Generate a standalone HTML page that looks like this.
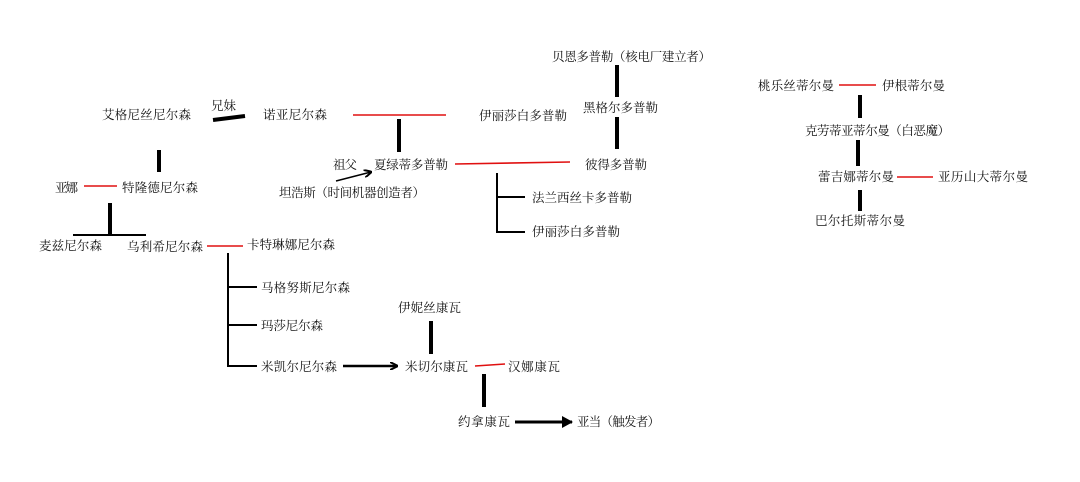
<!DOCTYPE html>
<html><head><meta charset="utf-8"><style>
html,body{margin:0;padding:0;background:#fff;}
svg{display:block;}
text{font-family:"Liberation Serif","Noto Serif CJK SC",serif;font-size:12.5px;fill:#111;}
</style></head><body>
<svg width="1080" height="482" viewBox="0 0 1080 482" xmlns="http://www.w3.org/2000/svg">
<defs><marker id="ah" markerWidth="8" markerHeight="8" refX="7" refY="4" orient="auto" markerUnits="userSpaceOnUse"><path d="M0,0 L8,4 L0,8" fill="none" stroke="#000" stroke-width="2"/></marker>
<marker id="ah2" markerWidth="12" markerHeight="12" refX="10" refY="6" orient="auto" markerUnits="userSpaceOnUse"><path d="M0,0 L11,6 L0,12 Z" fill="#000"/></marker></defs>
<g>
<text x="102" y="119" textLength="89">艾格尼丝尼尔森</text>
<text x="211" y="110" textLength="25">兄妹</text>
<text x="263" y="119" textLength="64">诺亚尼尔森</text>
<text x="479" y="120" textLength="88">伊丽莎白多普勒</text>
<text x="552" y="61" textLength="159">贝恩多普勒（核电厂建立者）</text>
<text x="583" y="112" textLength="75">黑格尔多普勒</text>
<text x="585" y="169" textLength="62">彼得多普勒</text>
<text x="374" y="169" textLength="74">夏绿蒂多普勒</text>
<text x="333" y="169" textLength="24">祖父</text>
<text x="279" y="197" textLength="146">坦浩斯（时间机器创造者）</text>
<text x="122" y="192" textLength="76">特隆德尼尔森</text>
<text x="55" y="192" textLength="23">亚娜</text>
<text x="39" y="250" textLength="63">麦兹尼尔森</text>
<text x="127" y="251" textLength="76">乌利希尼尔森</text>
<text x="247" y="249" textLength="88">卡特琳娜尼尔森</text>
<text x="261" y="292" textLength="89">马格努斯尼尔森</text>
<text x="261" y="330" textLength="62">玛莎尼尔森</text>
<text x="261" y="371" textLength="76">米凯尔尼尔森</text>
<text x="405" y="371" textLength="63">米切尔康瓦</text>
<text x="398" y="312" textLength="63">伊妮丝康瓦</text>
<text x="508" y="371" textLength="52">汉娜康瓦</text>
<text x="458" y="426" textLength="52">约拿康瓦</text>
<text x="577" y="426" textLength="83">亚当（触发者）</text>
<text x="532" y="202" textLength="100">法兰西丝卡多普勒</text>
<text x="532" y="236" textLength="88">伊丽莎白多普勒</text>
<text x="758" y="90" textLength="76">桃乐丝蒂尔曼</text>
<text x="882" y="90" textLength="63">伊根蒂尔曼</text>
<text x="805" y="135" textLength="145">克劳蒂亚蒂尔曼（白恶魔）</text>
<text x="818" y="181" textLength="76">蕾吉娜蒂尔曼</text>
<text x="938" y="181" textLength="90">亚历山大蒂尔曼</text>
<text x="815" y="225" textLength="90">巴尔托斯蒂尔曼</text>
</g>
<g stroke="#e01010" stroke-width="1.6">
<line x1="353" y1="115" x2="446" y2="115"/>
<line x1="455" y1="164" x2="570" y2="162"/>
<line x1="84" y1="186" x2="117" y2="186"/>
<line x1="207" y1="246" x2="243" y2="246"/>
<line x1="475" y1="366" x2="505" y2="364"/>
<line x1="839" y1="85" x2="876" y2="85"/>
<line x1="897" y1="177" x2="933" y2="177"/>
</g>
<g stroke="#000" stroke-width="4">
<line x1="213" y1="120" x2="245" y2="116"/>
<line x1="399" y1="119" x2="399" y2="152"/>
<line x1="617" y1="65" x2="617" y2="97"/>
<line x1="617" y1="117" x2="617" y2="149"/>
<line x1="159" y1="150" x2="159" y2="172"/>
<line x1="110" y1="203" x2="110" y2="235"/>
<line x1="431" y1="321" x2="431" y2="354"/>
<line x1="484" y1="374" x2="484" y2="407"/>
<line x1="860" y1="95" x2="860" y2="118"/>
<line x1="858" y1="140" x2="858" y2="166"/>
<line x1="860" y1="190" x2="860" y2="211"/>
</g>
<g stroke="#000" stroke-width="2">
<line x1="73" y1="235" x2="146" y2="235"/>
<line x1="228" y1="253" x2="228" y2="367"/>
<line x1="228" y1="287" x2="257" y2="287"/>
<line x1="228" y1="325" x2="257" y2="325"/>
<line x1="228" y1="366" x2="257" y2="366"/>
<line x1="497" y1="173" x2="497" y2="233"/>
<line x1="497" y1="197" x2="525" y2="197"/>
<line x1="497" y1="232" x2="525" y2="232"/>
<line x1="336" y1="181" x2="371" y2="172" stroke-width="1.5" marker-end="url(#ah)"/>
<line x1="343" y1="366" x2="397" y2="366" stroke-width="2.5" marker-end="url(#ah)"/>
<line x1="515" y1="422" x2="572" y2="422" stroke-width="3" marker-end="url(#ah2)"/>
</g>
</svg>
</body></html>
